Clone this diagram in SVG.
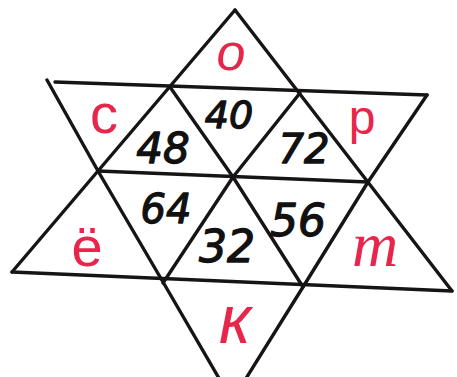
<svg xmlns="http://www.w3.org/2000/svg" width="457" height="377" viewBox="0 0 457 377">
<style>
.ln{fill:none;stroke:#161414;stroke-width:3.4;stroke-linecap:round;stroke-linejoin:round}
.num{font-family:"DejaVu Sans",sans-serif;font-style:oblique;fill:#111;stroke:#111;stroke-width:1.3;stroke-linejoin:round;text-anchor:middle}
.let{font-family:"Liberation Sans",sans-serif;fill:#e8254a;text-anchor:middle}
</style>
<rect width="457" height="377" fill="#ffffff"/>
<g id="lines">
<line class="ln" x1="235" y1="10" x2="12" y2="272"/>
<line class="ln" x1="235" y1="10" x2="452" y2="291"/>
<line class="ln" x1="12" y1="272" x2="452" y2="291"/>
<line class="ln" x1="55" y1="82" x2="427" y2="95"/>
<polyline class="ln" points="47,80 98,171 163,282 220,380"/>
<polyline class="ln" points="427,95 368,182 303,287 245,380"/>
<line class="ln" x1="98" y1="171" x2="368" y2="182"/>
<polyline class="ln" points="170,87 233,177 303,287"/>
<polyline class="ln" points="300,93 233,177 163,283"/>
</g>
<g id="numbers">
<text class="num" x="229" y="128" font-size="38">40</text>
<text class="num" x="163" y="163" font-size="42">48</text>
<text class="num" x="304" y="163" font-size="40">72</text>
<text class="num" x="166" y="223" font-size="40">64</text>
<text class="num" x="298" y="236" font-size="44">56</text>
<text class="num" x="227" y="262" font-size="44">32</text>
</g>
<g id="letters">
<text class="let" x="231" y="70" font-size="52" font-style="italic">о</text>
<text class="let" x="104" y="133" font-size="56">с</text>
<text class="let" x="362" y="134" font-size="48">р</text>
<text class="let" x="87" y="266" font-size="56">ё</text>
<text class="let" x="375" y="266" font-size="64" font-style="italic" style="font-family:'Liberation Serif',serif">т</text>
<text class="let" x="235" y="343" font-size="68" font-style="italic">к</text>
</g>
</svg>
